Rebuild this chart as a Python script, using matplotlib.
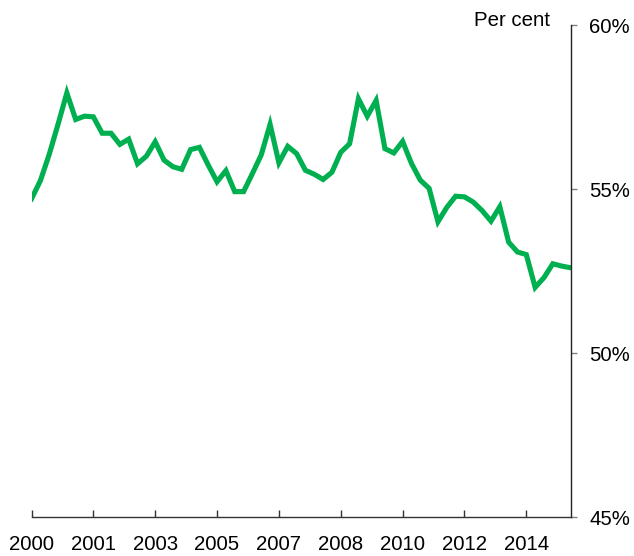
import matplotlib
matplotlib.use('agg')
from matplotlib import pyplot as plt

# quarterly share, per cent, 2000Q1 .. 2015Q2
share = [54.7, 55.25, 56.05, 56.97, 57.93, 57.12, 57.22, 57.2, 56.7, 56.7,
         56.36, 56.52, 55.77, 56.0, 56.44, 55.88, 55.68, 55.6, 56.2, 56.27,
         55.73, 55.22, 55.56, 54.92, 54.92, 55.47, 56.04, 56.97, 55.8, 56.3,
         56.08, 55.57, 55.45, 55.29, 55.51, 56.12, 56.38, 57.75, 57.22, 57.7,
         56.23, 56.1, 56.45, 55.78, 55.27, 55.02, 54.0, 54.44, 54.78, 54.76,
         54.6, 54.34, 54.02, 54.46, 53.38, 53.08, 53.0, 52.0, 52.3, 52.72,
         52.65, 52.6]
tick_labels = ['2000', '2001', '2003', '2005', '2007', '2008', '2010', '2012', '2014']
y_ticks = [45, 50, 55, 60]

plt.rcParams['font.family'] = ['Liberation Sans', 'DejaVu Sans']

fig = plt.figure(figsize=(6.34, 5.56), dpi=100)
ax = fig.add_axes([31.5 / 634, 1 - 517 / 556, (570.5 - 31.5) / 634, (517 - 25) / 556])

x = list(range(len(share)))
ax.plot(x, share, color='#00b050', lw=3.7, solid_joinstyle='miter')

ax.set_xlim(0, len(share) - 1)
ax.set_ylim(45, 60)

ax.set_xticks(x[::7])
ax.set_xticklabels(tick_labels)
ax.yaxis.tick_right()
ax.set_yticks(y_ticks)
ax.set_yticklabels(['{}%'.format(v) for v in y_ticks])

for side in ['top', 'left']:
    ax.spines[side].set_visible(False)
ax.spines['bottom'].set_color('#333333')
ax.spines['right'].set_color('#222222')
ax.spines['bottom'].set_linewidth(1.0)
ax.spines['right'].set_linewidth(1.0)

ax.tick_params(axis='x', direction='in', length=5, width=1, color='#333333',
               labelsize=14.7, pad=13)
ax.tick_params(axis='y', direction='out', length=4.5, width=1, color='#808080',
               labelsize=14.7, pad=9)

fig.text(550 / 634, 1 - 26 / 556, 'Per cent', ha='right', va='baseline', fontsize=14.7)

fig.savefig('out.png', dpi=100)
